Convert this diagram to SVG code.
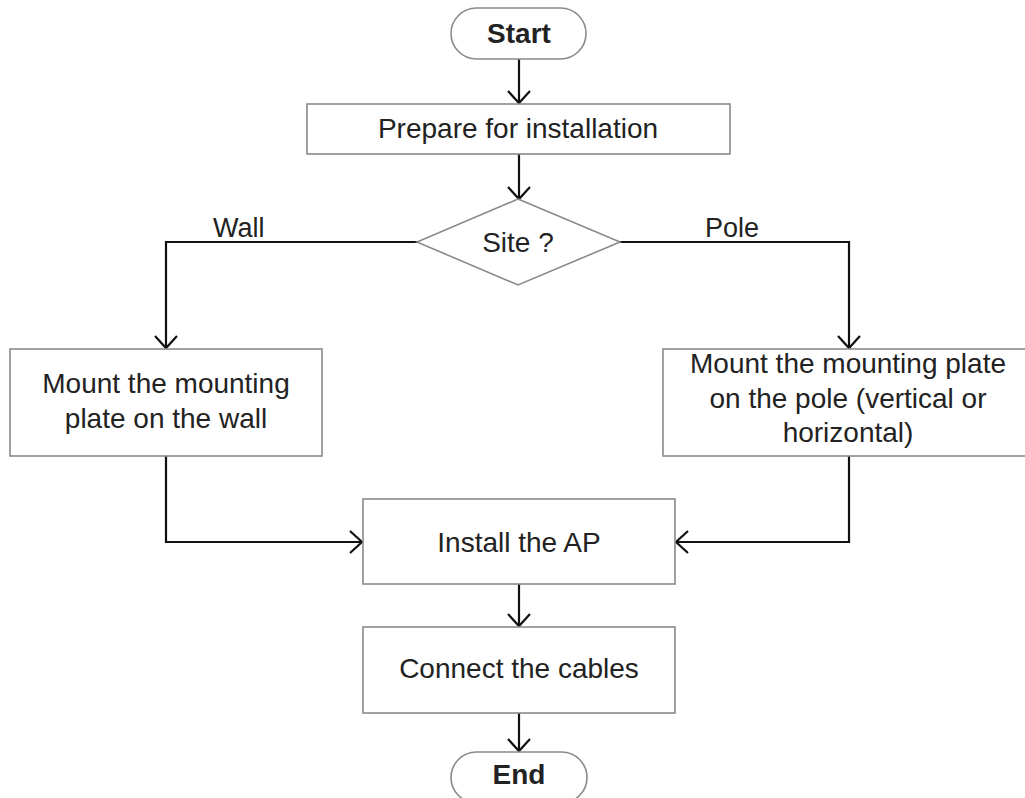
<svg xmlns="http://www.w3.org/2000/svg" width="1025" height="798" viewBox="0 0 1025 798">
<style>
.box{fill:#fff;stroke:#8a8a8a;stroke-width:1.6}
.t{font-family:"Liberation Sans",Arial,sans-serif;font-size:28px;fill:#222;text-anchor:middle}
.b{font-weight:bold}
.lbl{font-family:"Liberation Sans",Arial,sans-serif;font-size:27px;fill:#222}
.c{fill:none;stroke:#111;stroke-width:2.2}
</style>
<defs>
<marker id="arr" markerUnits="userSpaceOnUse" markerWidth="16" markerHeight="24" viewBox="0 0 16 24" refX="13" refY="12" orient="auto">
<path d="M1,1 L13,12 L1,23" fill="none" stroke="#111" stroke-width="2.2"/>
</marker>
</defs>
<rect width="1025" height="798" fill="#fff"/>
<g id="connectors">
<line class="c" x1="519" y1="59" x2="519" y2="103" marker-end="url(#arr)"/>
<line class="c" x1="519" y1="154" x2="519" y2="199" marker-end="url(#arr)"/>
<polyline class="c" points="417,242 166,242 166,348" marker-end="url(#arr)"/>
<polyline class="c" points="620,242 849,242 849,348" marker-end="url(#arr)"/>
<polyline class="c" points="166,456 166,542 362,542" marker-end="url(#arr)"/>
<polyline class="c" points="849,456 849,542 676,542" marker-end="url(#arr)"/>
<line class="c" x1="519" y1="584" x2="519" y2="626" marker-end="url(#arr)"/>
<line class="c" x1="519" y1="713" x2="519" y2="751" marker-end="url(#arr)"/>
<text class="lbl" x="213" y="237">Wall</text>
<text class="lbl" x="705" y="237">Pole</text>
</g>
<g id="start">
<rect class="box" x="451" y="8" width="135" height="51" rx="25.5"/>
<text class="t b" x="519" y="43">Start</text>
</g>
<g id="prepare">
<rect class="box" x="307" y="104" width="423" height="50"/>
<text class="t" x="518" y="138">Prepare for installation</text>
</g>
<g id="site">
<polygon class="box" points="518,199 620,242 518,285 417,242"/>
<text class="t" x="518" y="252">Site ?</text>
</g>
<g id="wall">
<rect class="box" x="10" y="349" width="312" height="107"/>
<text class="t" x="166" y="393">Mount the mounting</text>
<text class="t" x="166" y="428">plate on the wall</text>
</g>
<g id="pole">
<rect class="box" x="663" y="349" width="365" height="107"/>
<text class="t" x="848" y="373">Mount the mounting plate</text>
<text class="t" x="848" y="408">on the pole (vertical or</text>
<text class="t" x="848" y="442">horizontal)</text>
</g>
<g id="install">
<rect class="box" x="363" y="499" width="312" height="85"/>
<text class="t" x="519" y="552">Install the AP</text>
</g>
<g id="connect">
<rect class="box" x="363" y="627" width="312" height="86"/>
<text class="t" x="519" y="678">Connect the cables</text>
</g>
<g id="end">
<rect class="box" x="451" y="752" width="136" height="51" rx="25.5"/>
<text class="t b" x="519" y="784">End</text>
</g>
</svg>
